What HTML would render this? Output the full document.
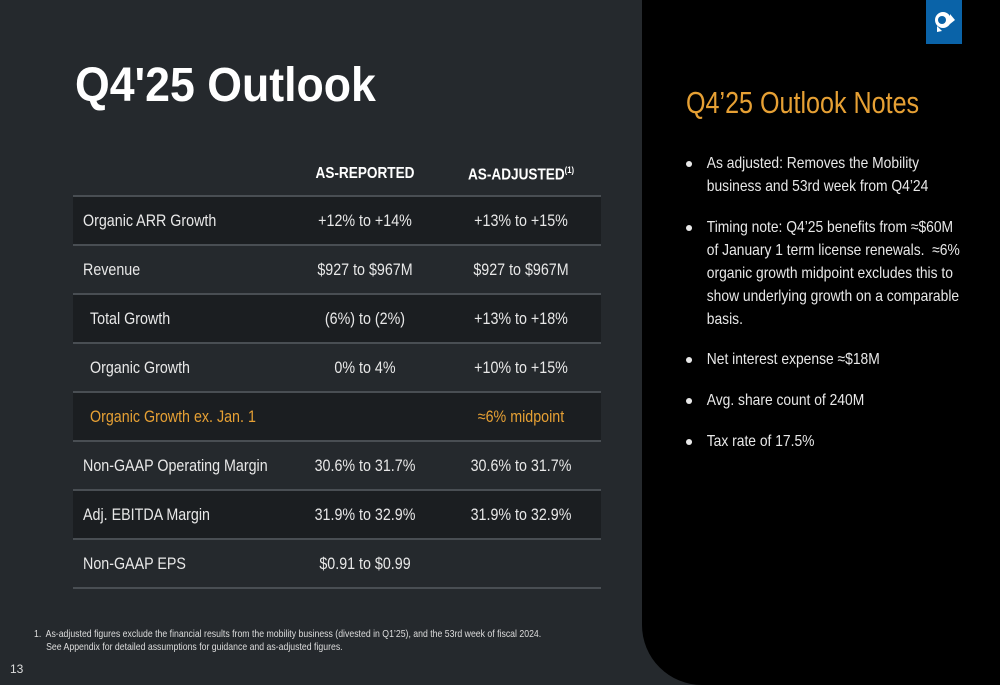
<!DOCTYPE html>
<html><head><meta charset="utf-8"><style>
*{margin:0;padding:0;box-sizing:border-box}
body{width:1000px;height:685px;background:#25292d;position:relative;overflow:hidden;font-family:"Liberation Sans",sans-serif;color:#e8e8e8}
#title{position:absolute;left:75px;top:58px;font-weight:bold;font-size:48px;color:#fff;transform:scaleX(0.93);transform-origin:left}
#panel{position:absolute;left:642px;top:0;width:358px;height:685px;background:#000;border-bottom-left-radius:60px}
#logo{position:absolute;left:926px;top:0;width:36px;height:44px;background:#0a63a8}
#notes-title{position:absolute;left:686px;top:85px;font-size:31px;color:#e6a034;white-space:nowrap;transform:scaleX(0.81);transform-origin:left}
ul{position:absolute;left:686px;top:152px;width:324px;list-style:none;font-size:16px;line-height:23px;color:#e8e8e8;transform:scaleX(0.865);transform-origin:left top}
li{position:relative;padding-left:24px;margin-bottom:17.7px}
li:before{content:"";position:absolute;left:0;top:9px;width:7px;height:6px;border-radius:50%;background:#e8e8e8}
.row{position:absolute;left:73px;width:528px;height:49px;border-bottom:2px solid #494e53;font-size:17px;line-height:47px}
.dark{background:#1b1e21}
.row span{position:absolute;top:0;white-space:nowrap}
.c1{left:10px;transform:scaleX(0.84);transform-origin:left}.c1.ind{left:17px}
.c2,.c3{width:200px;text-align:center;transform:scaleX(0.84)}
.c2{left:192px}.c3{left:348px}
.hdr{position:absolute;top:165px;width:200px;text-align:center;font-size:16px;font-weight:bold;color:#fff;white-space:nowrap;transform:scaleX(0.85)}
.or{color:#e6a034}
#foot{position:absolute;left:34px;top:628px;font-size:10.5px;line-height:13px;color:#ddd;white-space:nowrap;transform:scaleX(0.83);transform-origin:left}
#pg{position:absolute;left:10px;top:662px;font-size:12px;color:#ddd}
</style></head><body>
<div id="title">Q4'25 Outlook</div>
<div id="panel"></div>
<div id="logo"><svg width="36" height="44"><circle cx="17" cy="20" r="8" fill="#fff"/><circle cx="16" cy="20" r="4" fill="#0a63a8"/><polygon points="24,14 29,20 24,24" fill="#fff"/><polygon points="11,26 16,31 11,32" fill="#fff"/></svg></div>
<div class="hdr" style="left:265px">AS-REPORTED</div>
<div class="hdr" style="left:421px">AS-ADJUSTED<sup style="font-size:9px">(1)</sup></div>
<div style="position:absolute;left:73px;top:195px;width:528px;height:2px;background:#494e53"></div>
<div class="row dark" style="top:197px"><span class="c1">Organic ARR Growth</span><span class="c2">+12% to +14%</span><span class="c3">+13% to +15%</span></div>
<div class="row" style="top:246px"><span class="c1">Revenue</span><span class="c2">$927 to $967M</span><span class="c3">$927 to $967M</span></div>
<div class="row dark" style="top:295px"><span class="c1 ind">Total Growth</span><span class="c2">(6%) to (2%)</span><span class="c3">+13% to +18%</span></div>
<div class="row" style="top:344px"><span class="c1 ind">Organic Growth</span><span class="c2">0% to 4%</span><span class="c3">+10% to +15%</span></div>
<div class="row dark or" style="top:393px"><span class="c1 ind">Organic Growth ex. Jan. 1</span><span class="c3">≈6% midpoint</span></div>
<div class="row" style="top:442px"><span class="c1">Non-GAAP Operating Margin</span><span class="c2">30.6% to 31.7%</span><span class="c3">30.6% to 31.7%</span></div>
<div class="row dark" style="top:491px"><span class="c1">Adj. EBITDA Margin</span><span class="c2">31.9% to 32.9%</span><span class="c3">31.9% to 32.9%</span></div>
<div class="row" style="top:540px"><span class="c1">Non-GAAP EPS</span><span class="c2">$0.91 to $0.99</span></div>
<div id="notes-title">Q4’25 Outlook Notes</div>
<ul>
<li>As adjusted: Removes the Mobility business and 53rd week from Q4’24</li>
<li>Timing note: Q4’25 benefits from ≈$60M of January 1 term license renewals.&nbsp; ≈6% organic growth midpoint excludes this to show underlying growth on a comparable basis.</li>
<li>Net interest expense ≈$18M</li>
<li>Avg. share count of 240M</li>
<li>Tax rate of 17.5%</li>
</ul>
<div id="foot">1.&nbsp; As-adjusted figures exclude the financial results from the mobility business (divested in Q1’25), and the 53rd week of fiscal 2024.<br>&nbsp;&nbsp;&nbsp;&nbsp;&nbsp;See Appendix for detailed assumptions for guidance and as-adjusted figures.</div>
<div id="pg">13</div>
</body></html>
